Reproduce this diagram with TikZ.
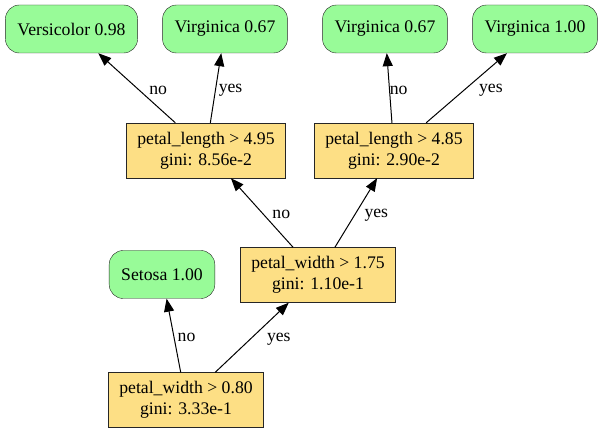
\documentclass[tikz,border=0pt]{standalone}
\usepackage{fontspec}
\setmainfont{Liberation Serif}
\usetikzlibrary{arrows.meta, shapes, positioning}

\definecolor{leafgreen}{RGB}{152,251,152}
\definecolor{splityellow}{RGB}{253,223,133}
\newcommand{\treefont}{\fontsize{17.7bp}{21bp}\selectfont}

\tikzset{
  leaf/.style={draw=black!85, fill=leafgreen, rounded corners=14bp, minimum height=48bp, inner xsep=12bp, font=\treefont},
  split/.style={draw=black!85, fill=splityellow, minimum height=55bp, inner xsep=11bp, inner ysep=2bp, align=center, font=\treefont},
  lbl/.style={font=\treefont, inner sep=0pt, anchor=west, pos=.5, yshift=-2bp},
  edge/.style={->, line width=1bp}
}

\begin{document}
\begin{tikzpicture}[>={Triangle[length=13bp, width=10bp]}]
      \useasboundingbox (-186bp,-33bp) rectangle (418bp,400bp);

      % nodes %
      \node[split] (pw080) {petal\_width > 0.80\\gini: 3.33e-1};
      \node[leaf, above of = pw080, node distance=125.5bp, xshift=-24bp] (setosa) {Setosa 1.00};
      \node[split, above of = pw080, node distance=125bp, xshift=132bp] (pw175) {petal\_width > 1.75\\gini: 1.10e-1};
      \node[split, above of = pw175, node distance=124.5bp, xshift=-112bp] (pl495) {petal\_length > 4.95\\gini: 8.56e-2};
      \node[split, above of = pw175, node distance=124.5bp, xshift=76bp] (pl485) {petal\_length > 4.85\\gini: 2.90e-2};
      \node[leaf, above of = pl495, node distance=121.5bp, xshift=-134.5bp] (versi) {Versicolor 0.98};
      \node[leaf, above of = pl495, node distance=121.5bp, xshift=19bp] (virgA) {Virginica 0.67};
      \node[leaf, above of = pl485, node distance=121.5bp, xshift=-9bp] (virgB) {Virginica 0.67};
      \node[leaf, above of = pl485, node distance=121.5bp, xshift=141bp] (virgC) {Virginica 1.00};

      % edges %
      \draw[edge] (pw080) -- node[lbl, xshift=3.5bp] {no} (setosa);
      \draw[edge] (pw080) -- node[lbl, xshift=14.5bp] {yes} (pw175);
      \draw[edge] (pw175) -- node[lbl, xshift=10bp] {no} (pl495);
      \draw[edge] (pw175) -- node[lbl, xshift=8bp] {yes} (pl485);
      \draw[edge] (pl495) -- node[lbl, xshift=12bp] {no} (versi);
      \draw[edge] (pl495) -- node[lbl, xshift=2.5bp] {yes} (virgA);
      \draw[edge] (pl485) -- node[lbl, xshift=0bp] {no} (virgB);
      \draw[edge] (pl485) -- node[lbl, xshift=12bp] {yes} (virgC);
\end{tikzpicture}
\end{document}
